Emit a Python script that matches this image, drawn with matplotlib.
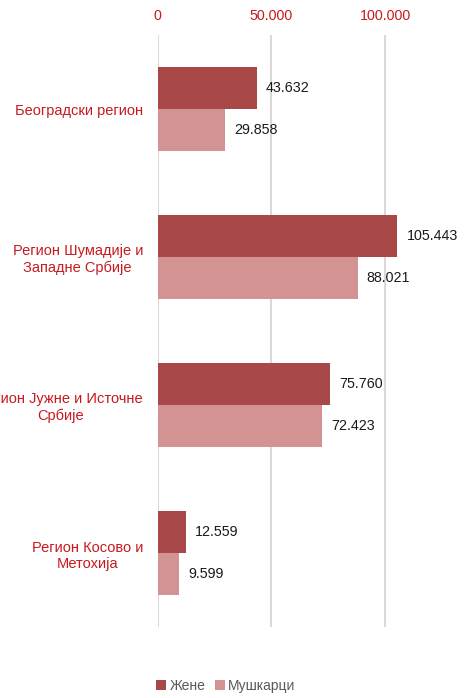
import matplotlib
matplotlib.use('Agg')
from matplotlib import pyplot as plt
import numpy as np

# podaci po regionima
regions = ['Београдски регион',
           'Регион Шумадије и\nЗападне Србије',
           'Регион Јужне и Источне\nСрбије',
           'Регион Косово и\nМетохија']
zene = [43632, 105443, 75760, 12559]
muskarci = [29858, 88021, 72423, 9599]
ticks = [0, 50000, 100000]
series_names = ['Жене', 'Мушкарци']

c_zene = '#A84848'
c_musk = '#D39393'
c_red = '#C8191E'

plt.rcParams['font.family'] = ['Liberation Sans Narrow', 'Liberation Sans', 'DejaVu Sans']

fig = plt.figure(figsize=(4.74, 6.98), dpi=100)
W, H = 474, 698
ax = fig.add_axes([157.5 / W, 1 - 627 / H, 1 - 157.5 / W, (627 - 35) / H])

y = np.arange(len(regions))
h = 0.287
ax.barh(y - h / 2, zene, height=h, color=c_zene, label=series_names[0], zorder=3)
ax.barh(y + h / 2, muskarci, height=h, color=c_musk, label=series_names[1], zorder=3)

fmt = lambda v: f'{v:,}'.replace(',', '.')
for i in range(len(regions)):
    ax.annotate(fmt(zene[i]), (zene[i], y[i] - h / 2), xytext=(9, 0), textcoords='offset pixels',
                va='center', ha='left', fontsize=10.3, color='#1a1a1a')
    ax.annotate(fmt(muskarci[i]), (muskarci[i], y[i] + h / 2), xytext=(9, 0), textcoords='offset pixels',
                va='center', ha='left', fontsize=10.3, color='#1a1a1a')

ax.set_xlim(0, 139100)
ax.set_ylim(len(regions) - 0.5, -0.5)
ax.set_xticks(ticks)
ax.set_xticklabels([fmt(t) for t in ticks], color=c_red, fontsize=10.3)
ax.xaxis.tick_top()
ax.tick_params(axis='x', length=0, pad=8.5)
ax.set_yticks(y)
ax.set_yticklabels(regions, color=c_red, fontsize=10.5)
ax.tick_params(axis='y', length=0, pad=10.5)
for lb in ax.get_yticklabels():
    lb.set_multialignment('center')
ax.grid(axis='x', color='#D9D9D9', linewidth=1.5, zorder=0)
for s in ax.spines.values():
    s.set_visible(False)

leg = fig.legend(loc='center', bbox_to_anchor=(226 / W, 1 - 686 / H), ncol=2, frameon=False,
                 handlelength=0.7, handleheight=0.7, handletextpad=0.25, columnspacing=0.7,
                 fontsize=10)
for t in leg.get_texts():
    t.set_color('#595959')

fig.savefig('out.png', dpi=100)
